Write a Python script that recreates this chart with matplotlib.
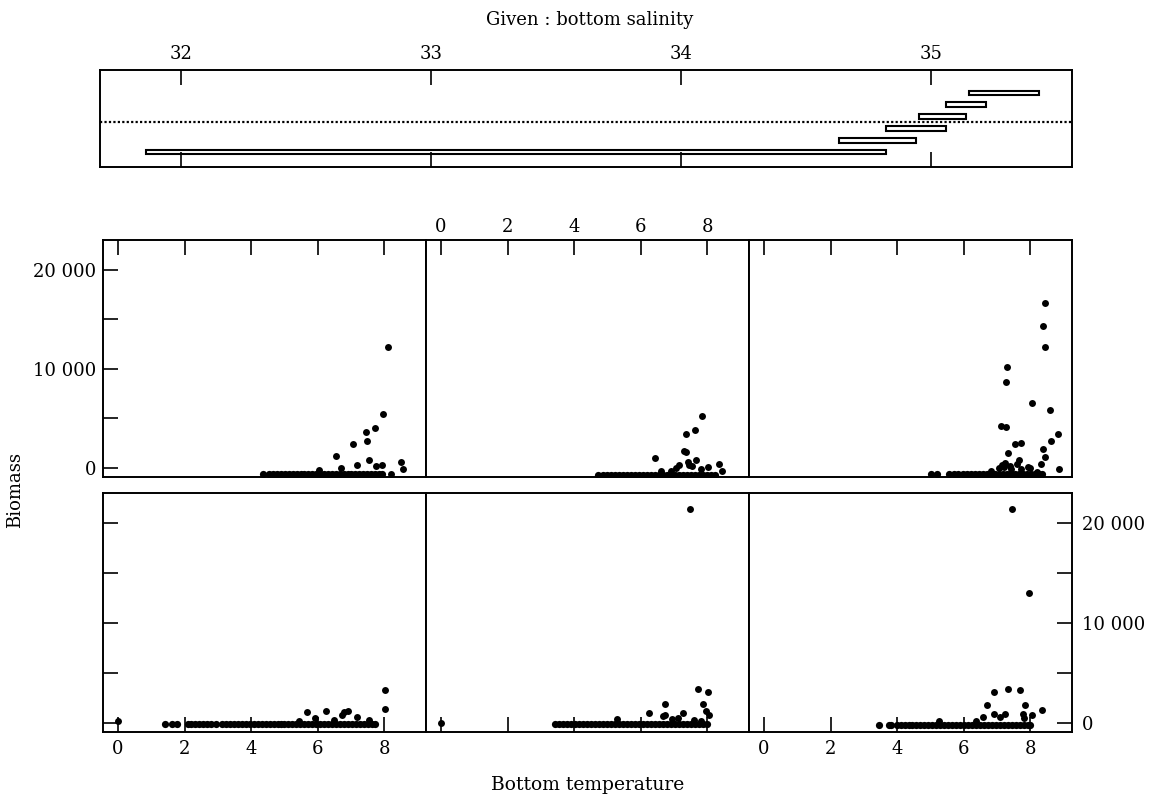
import numpy as np
import matplotlib.pyplot as plt

plt.rcParams['font.family'] = 'DejaVu Serif'
plt.rcParams['font.size'] = 13

W, H = 1156, 797

# given intervals of bottom salinity (1 = bottom-left panel ... 6 = top-right)
sal_lo = [31.86, 34.63, 34.82, 34.95, 35.06, 35.15]
sal_hi = [34.82, 34.94, 35.06, 35.14, 35.22, 35.43]

# scattered catches (bottom temperature, biomass) per interval
temp1 = [8.02, 8.02, 5.69, 6.26, 6.74, 6.79, 6.91, 7.18, 5.92, 0.0, 7.55, 6.5, 5.45]
bio1 = [3230, 1400, 1030, 1200, 730, 1070, 1170, 600, 470, 170, 250, 300, 200]
temp2 = [7.47, 7.73, 8.01, 7.88, 7.97, 8.05, 6.73, 6.73, 6.67, 6.25, 7.28, 7.13,
         6.93, 5.29, 0.0, 7.6, 7.8]
bio2 = [21430, 3330, 3070, 1830, 1170, 730, 1830, 800, 670, 970, 970, 470,
        400, 330, 0, 300, 200]
temp3 = [7.45, 7.95, 6.90, 7.32, 7.70, 6.71, 7.85, 8.34, 6.90, 7.24, 7.09, 6.58,
         7.79, 7.81, 8.05, 5.27, 6.36]
bio3 = [21370, 12970, 3030, 3330, 3270, 1730, 1730, 1270, 830, 870, 600, 600,
        900, 470, 730, 170, 170]
temp4 = [8.11, 7.95, 7.72, 7.44, 7.49, 7.05, 6.54, 7.53, 8.50, 8.56, 8.19, 7.94,
         7.18, 7.75, 6.7, 6.05]
bio4 = [12230, 5370, 4030, 3600, 2700, 2400, 1200, 800, 600, -170, -600, 300,
        300, 200, 0, -200]
temp5 = [7.84, 7.62, 7.35, 7.35, 7.42, 7.65, 6.43, 8.02, 8.35, 8.45, 7.07, 6.6,
         6.9, 7.3, 7.15, 7.55, 7.8, 7.45]
bio5 = [5170, 3830, 3430, 1530, 600, 800, 970, 70, 400, -330, 0, -300,
        -300, 1650, 300, 200, -100, 300]
temp6 = [8.45, 8.39, 8.44, 7.30, 7.27, 8.04, 8.58, 7.12, 7.28, 8.82, 8.63, 7.53,
         7.73, 8.39, 7.33, 8.43, 7.66, 7.93, 7.98, 8.33, 8.87, 7.06, 7.21, 6.82,
         7.41, 7.71, 8.2, 7.15, 7.25, 7.4, 7.6]
bio6 = [16630, 14300, 12230, 10130, 8630, 6500, 5870, 4230, 4100, 3400, 2700, 2430,
        2530, 1900, 1470, 1030, 800, 100, 0, 330, -170, 0, 100, -300,
        -100, -100, -400, 300, 500, 200, 400]

# the many near-zero catches, temperatures only
zero1 = [1.42, 1.62, 1.76, 2.09, 2.2, 2.32, 2.44, 2.56, 2.68, 2.8, 2.93, 3.12, 3.24,
         3.36, 3.48, 3.6, 3.72, 3.84, 3.96, 4.08, 4.2, 4.32, 4.44, 4.56, 4.68, 4.8,
         4.9, 5.0, 5.12, 5.24, 5.36, 5.48, 5.6, 5.72, 5.84, 5.96, 6.08, 6.2, 6.32,
         6.44, 6.56, 6.68, 6.8, 6.92, 7.04, 7.16, 7.28, 7.4, 7.52, 7.64, 7.73]
zero2 = [3.43, 3.55, 3.67, 3.79, 3.91, 4.03, 4.15, 4.27, 4.39, 4.51, 4.63, 4.75,
         4.87, 4.99, 5.11, 5.23, 5.35, 5.47, 5.59, 5.71, 5.83, 5.95, 6.07, 6.19,
         6.31, 6.43, 6.55, 6.67, 6.79, 6.91, 7.03, 7.15, 7.27, 7.39, 7.51, 7.63,
         7.75, 7.87, 7.98]
zero3 = [3.46, 3.74, 3.82, 3.98, 4.1, 4.22, 4.34, 4.46, 4.58, 4.7, 4.82, 4.94, 5.06,
         5.18, 5.3, 5.42, 5.54, 5.66, 5.78, 5.9, 6.02, 6.14, 6.26, 6.38, 6.5, 6.62,
         6.74, 6.86, 6.98, 7.1, 7.22, 7.34, 7.46, 7.58, 7.7, 7.82, 7.94, 7.99]
zero4 = [4.36, 4.55, 4.66, 4.78, 4.9, 5.02, 5.13, 5.25, 5.37, 5.49, 5.6, 5.72, 5.84,
         5.96, 6.07, 6.19, 6.31, 6.43, 6.54, 6.66, 6.78, 6.9, 7.01, 7.13, 7.25, 7.37,
         7.48, 7.6, 7.72, 7.84, 7.93]
zero5 = [4.72, 4.88, 5.0, 5.12, 5.24, 5.36, 5.48, 5.6, 5.72, 5.84, 5.96, 6.08, 6.2,
         6.32, 6.44, 6.56, 6.68, 6.8, 6.92, 7.04, 7.16, 7.28, 7.4, 7.52, 7.64, 7.76,
         7.88, 8.0, 8.12, 8.24]
zero6 = [5.03, 5.2, 5.57, 5.7, 5.83, 5.98, 6.1, 6.22, 6.34, 6.46, 6.58, 6.7, 6.82,
         6.94, 7.06, 7.18, 7.3, 7.42, 7.54, 7.66, 7.78, 7.9, 8.02, 8.14, 8.26, 8.36]
zero_level = [-150, -150, -200, -650, -700, -650]

temps = [temp1, temp2, temp3, temp4, temp5, temp6]
bios = [bio1, bio2, bio3, bio4, bio5, bio6]
zeros = [zero1, zero2, zero3, zero4, zero5, zero6]

fig = plt.figure(figsize=(W / 100, H / 100), dpi=100)

# ---- given panel ----
axg = fig.add_axes([100 / W, 1 - 167 / H, 972 / W, 97 / H])
ylev = np.arange(1, 7)
axg.barh(ylev, np.array(sal_hi) - np.array(sal_lo), left=sal_lo, height=0.4,
         facecolor='white', edgecolor='black', linewidth=1.5)
axg.axhline(3.55, color='black', lw=1.6, ls=(0, (1, 1)))
axg.set_xlim(31.676, 35.564)
axg.set_ylim(-0.27, 7.95)
axg.set_yticks([])
axg.set_xticks([32, 33, 34, 35])
axg.tick_params(axis='x', top=True, bottom=True, labeltop=True, labelbottom=False,
                direction='in', length=11, width=1.2, pad=5)
for s in axg.spines.values():
    s.set_linewidth(1.4)

# ---- dependence panels ----
cols = [103, 426, 749]
pw = 323
rows = [(477, 237), (732, 239)]  # (bottom px, height px): top row, bottom row
places = [(1, 0), (1, 1), (1, 2), (0, 0), (0, 1), (0, 2)]

yt = [0, 5000, 10000, 15000, 20000]
ytl = ['0', '', '10 000', '', '20 000']

for k in range(6):
    r, c = places[k]
    yb, ph = rows[r]
    ax = fig.add_axes([cols[c] / W, 1 - yb / H, pw / W, ph / H])
    ax.plot(zeros[k], np.full(len(zeros[k]), zero_level[k]), 'o', color='black',
            ms=5.2, mew=0)
    ax.plot(temps[k], bios[k], 'o', color='black', ms=5.0, mew=0)
    ax.set_xlim(-0.45, 9.25)
    ax.set_ylim(-950, 23000)
    for s in ax.spines.values():
        s.set_linewidth(1.4)
    ax.set_xticks([0, 2, 4, 6, 8])
    if r == 0:
        ax.tick_params(axis='x', top=True, bottom=False, labeltop=(c == 1),
                       labelbottom=False, pad=3)
    else:
        ax.tick_params(axis='x', top=False, bottom=True, labeltop=False,
                       labelbottom=(c != 1), pad=6)
    ax.tick_params(axis='both', direction='in', length=11, width=1.2)
    ax.tick_params(axis='y', pad=5)
    if c == 0:
        ax.set_yticks(yt)
        ax.set_yticklabels(ytl if r == 0 else [''] * 5)
        ax.tick_params(axis='y', left=True, right=False)
    elif c == 2 and r == 1:
        ax.set_yticks(yt)
        ax.set_yticklabels(ytl)
        ax.tick_params(axis='y', left=False, right=True, labelleft=False,
                       labelright=True, pad=7)
    else:
        ax.set_yticks([])

fig.text(590 / W, 1 - 20 / H, 'Given : bottom salinity', ha='center', va='center',
         fontsize=13)
fig.text(588 / W, 1 - 785 / H, 'Bottom temperature', ha='center', va='center',
         fontsize=13.5)
fig.text(15 / W, 1 - 490 / H, 'Biomass', ha='center', va='center', rotation=90,
         fontsize=13)

plt.savefig('out.png', dpi=100)
